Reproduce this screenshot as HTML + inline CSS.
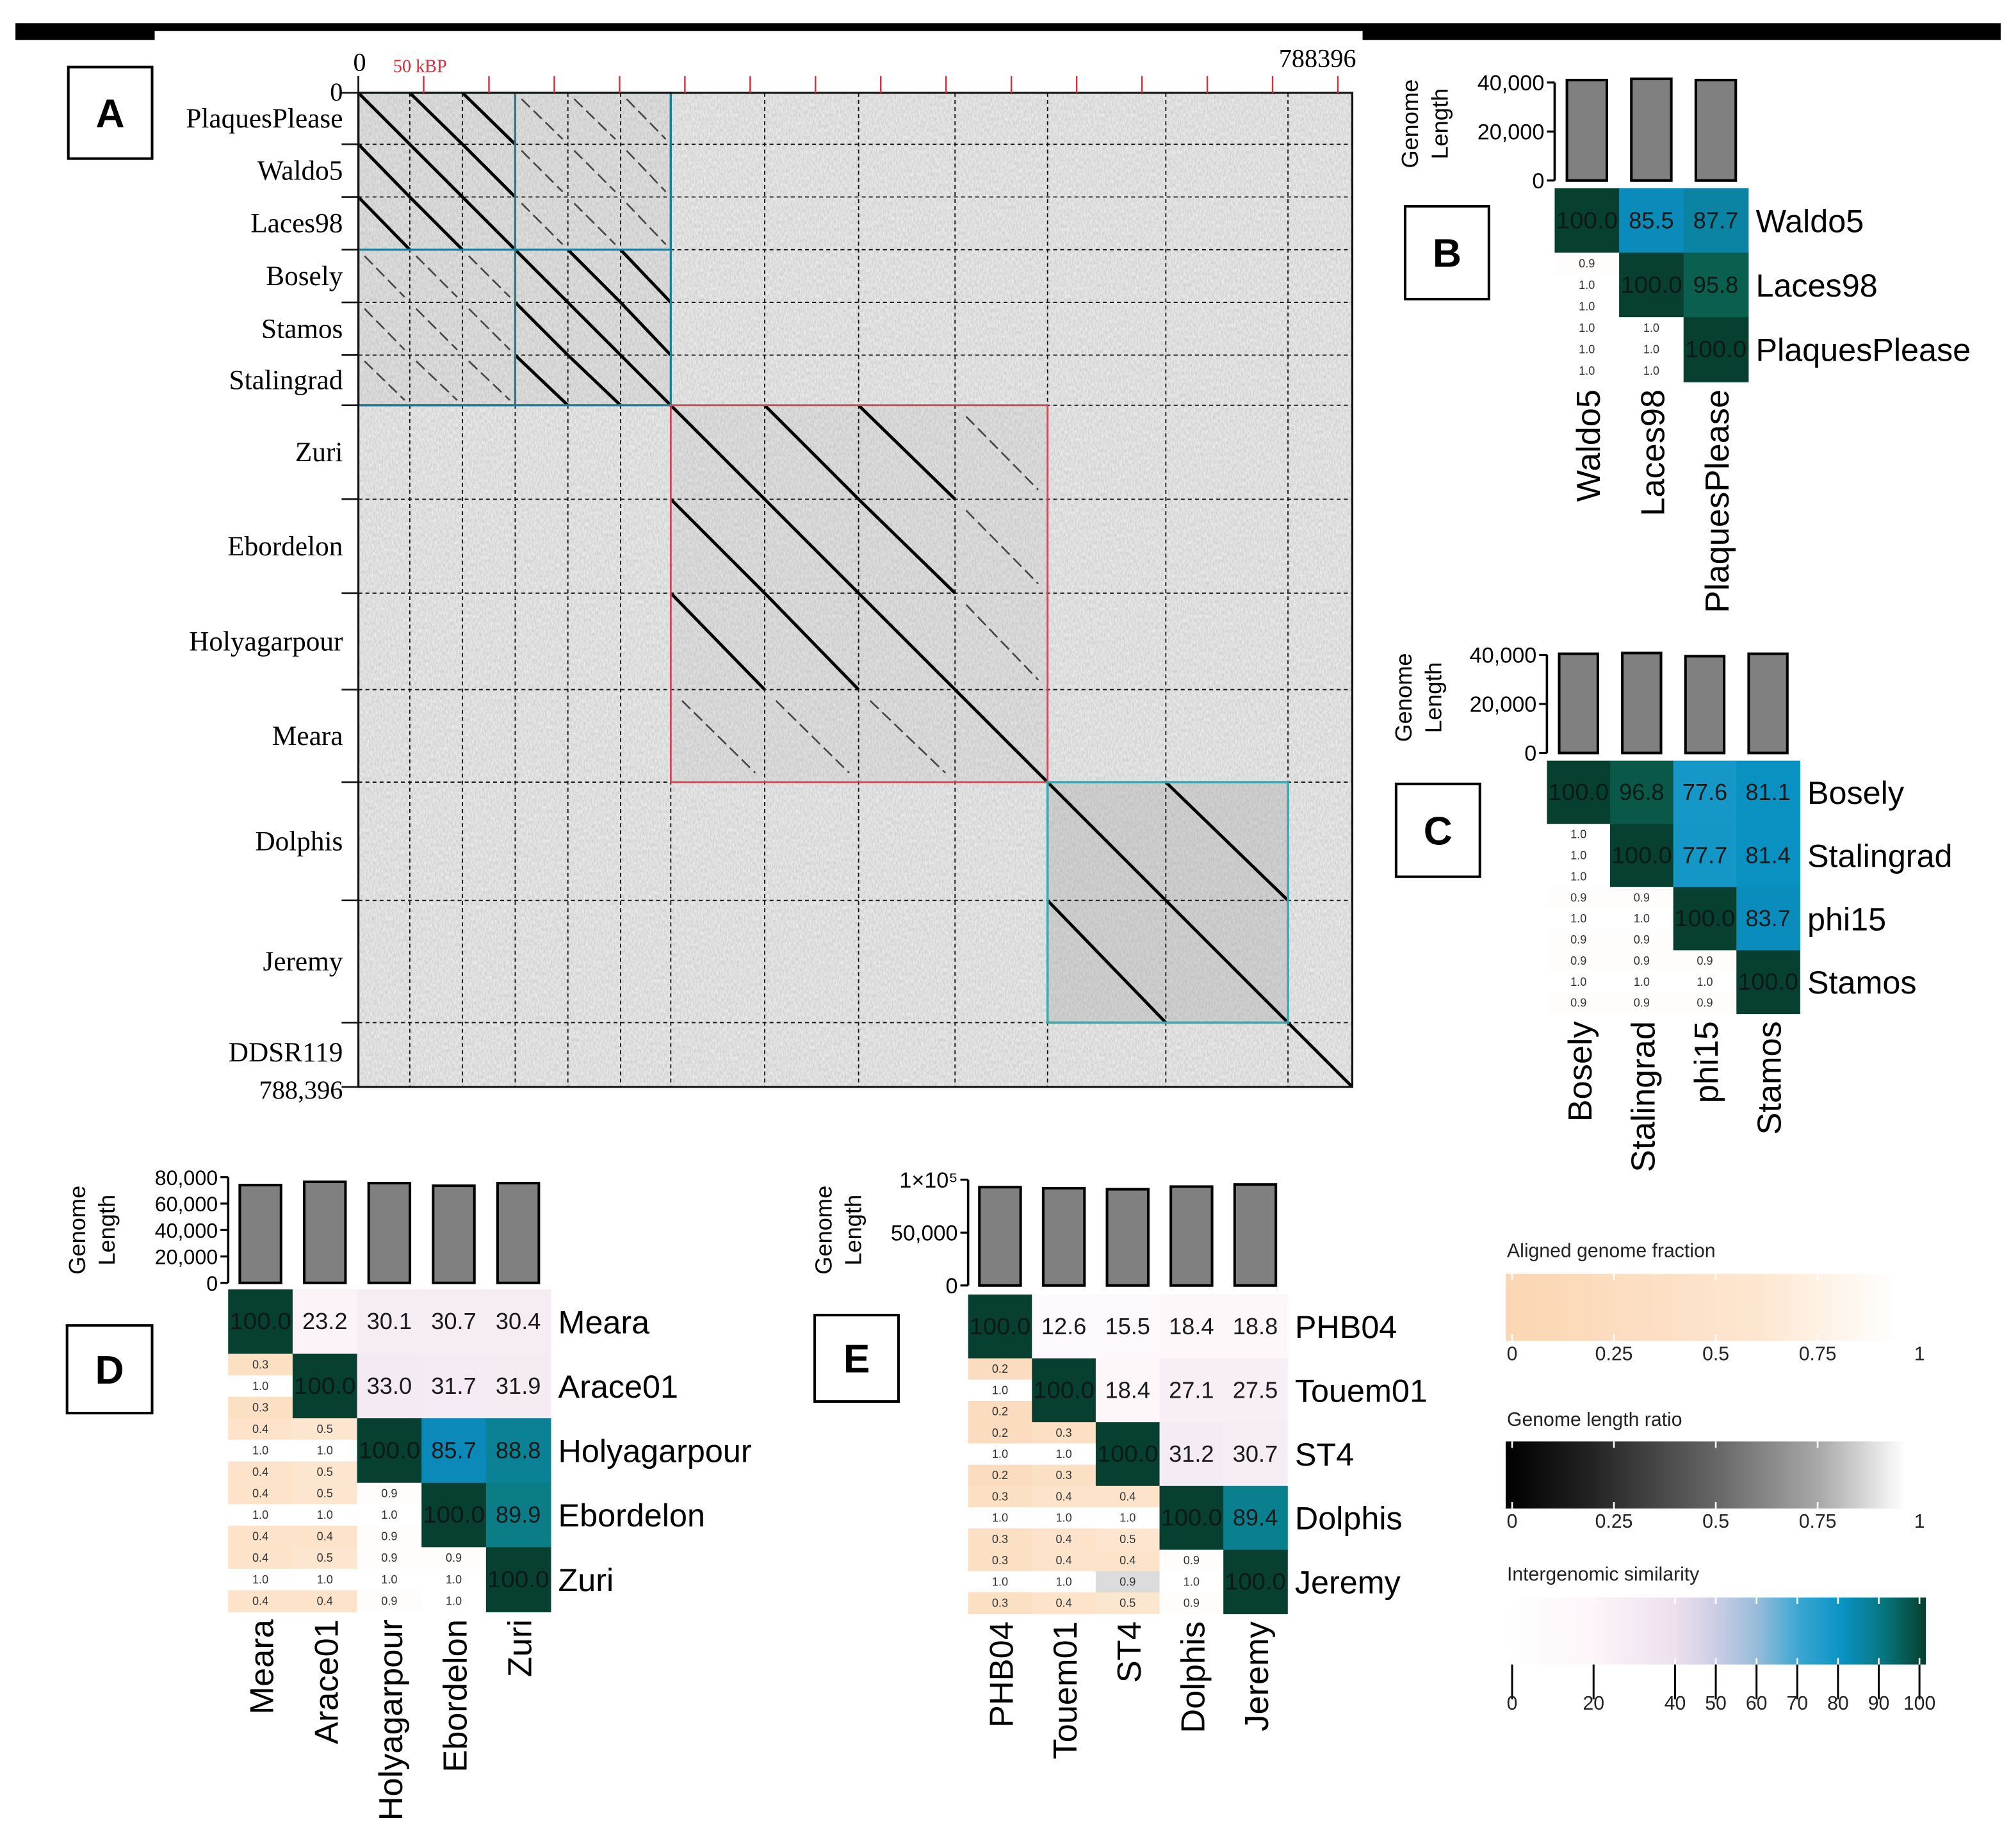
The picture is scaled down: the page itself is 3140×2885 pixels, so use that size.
<!DOCTYPE html>
<html><head><meta charset="utf-8">
<style>
html,body{margin:0;padding:0;background:#fff;}
svg{display:block;}
.serif{font-family:"Liberation Serif",serif;}
.sans{font-family:"Liberation Sans",sans-serif;}
</style></head>
<body>
<svg id="fig" xmlns="http://www.w3.org/2000/svg" width="3140" height="2885" viewBox="0 0 1560 1433.3" preserveAspectRatio="none">
<defs>
<filter id="noise" x="0" y="0" width="100%" height="100%">
<feTurbulence type="fractalNoise" baseFrequency="0.9 0.35" numOctaves="2" seed="3"/>
<feColorMatrix type="matrix" values="0 0 0 0 0.35  0 0 0 0 0.35  0 0 0 0 0.35  0 0 0 -1.6 1.25"/>
</filter>
<linearGradient id="gFrac" x1="0" x2="1"><stop offset="0" stop-color="#fbd6b2"/><stop offset="0.6" stop-color="#fde6d0"/><stop offset="0.93" stop-color="#ffffff"/></linearGradient>
<linearGradient id="gRatio" x1="0" x2="1"><stop offset="0" stop-color="#000"/><stop offset="0.2" stop-color="#222"/><stop offset="0.5" stop-color="#666"/><stop offset="0.75" stop-color="#aaa"/><stop offset="0.95" stop-color="#fff"/></linearGradient>
<linearGradient id="gSim" x1="0" x2="1"><stop offset="0" stop-color="#ffffff"/><stop offset="0.2" stop-color="#fdf6fa"/><stop offset="0.4" stop-color="#eee0ee"/><stop offset="0.5" stop-color="#cccde6"/><stop offset="0.6" stop-color="#95bcd9"/><stop offset="0.7" stop-color="#3aa6d2"/><stop offset="0.8" stop-color="#0993c4"/><stop offset="0.9" stop-color="#07767e"/><stop offset="1" stop-color="#053f2e"/></linearGradient>
</defs>
</svg>
<script>
// ---------- DATA ----------
const dotGenomes = ['PlaquesPlease','Waldo5','Laces98','Bosely','Stamos','Stalingrad','Zuri','Ebordelon','Holyagarpour','Meara','Dolphis','Jeremy','DDSR119'];
const dotLengths = [40800,41800,41800,41800,41800,39800,74500,74500,76500,73400,93800,96900,51000];
const dotSubcluster = ['A','A','A','B','B','B','C','C','C','D','E','E','F'];
const dotCluster = [1,1,1,1,1,1,2,2,2,2,3,3,4];
const dotTotalLabel = '788396';
const topTickStepBp = 51800;

const bNames = ['Waldo5','Laces98','PlaquesPlease'];
const bLengths = [41000,41500,41000];
const bSim = [[100,85.5,87.7],[null,100,95.8],[null,null,100]];
const bLower = {'1,0':[0.9,1.0,1.0],'2,0':[1.0,1.0,1.0],'2,1':[1.0,1.0,1.0]};
const bTicks = [0,20000,40000];

const cNames = ['Bosely','Stalingrad','phi15','Stamos'];
const cLengths = [40500,40800,39500,40500];
const cSim = [[100,96.8,77.6,81.1],[null,100,77.7,81.4],[null,null,100,83.7],[null,null,null,100]];
const cLower = {'1,0':[1.0,1.0,1.0],'2,0':[0.9,1.0,0.9],'2,1':[0.9,1.0,0.9],'3,0':[0.9,1.0,0.9],'3,1':[0.9,1.0,0.9],'3,2':[0.9,1.0,0.9]};
const cTicks = [0,20000,40000];

const dNames = ['Meara','Arace01','Holyagarpour','Ebordelon','Zuri'];
const dLengths = [74000,76500,75500,73500,75500];
const dSim = [[100,23.2,30.1,30.7,30.4],[null,100,33.0,31.7,31.9],[null,null,100,85.7,88.8],[null,null,null,100,89.9],[null,null,null,null,100]];
const dLower = {'1,0':[0.3,1.0,0.3],'2,0':[0.4,1.0,0.4],'2,1':[0.5,1.0,0.5],'3,0':[0.4,1.0,0.4],'3,1':[0.5,1.0,0.4],'3,2':[0.9,1.0,0.9],'4,0':[0.4,1.0,0.4],'4,1':[0.5,1.0,0.4],'4,2':[0.9,1.0,0.9],'4,3':[0.9,1.0,1.0]};
const dTicks = [0,20000,40000,60000,80000];

const eNames = ['PHB04','Touem01','ST4','Dolphis','Jeremy'];
const eLengths = [93000,92000,91000,93500,95500];
const eSim = [[100,12.6,15.5,18.4,18.8],[null,100,18.4,27.1,27.5],[null,null,100,31.2,30.7],[null,null,null,100,89.4],[null,null,null,null,100]];
const eLower = {'1,0':[0.2,1.0,0.2],'2,0':[0.2,1.0,0.2],'2,1':[0.3,1.0,0.3],'3,0':[0.3,1.0,0.3],'3,1':[0.4,1.0,0.4],'3,2':[0.4,1.0,0.5],'4,0':[0.3,1.0,0.3],'4,1':[0.4,1.0,0.4],'4,2':[0.4,0.9,0.5],'4,3':[0.9,1.0,0.9]};
const eTicks = [0,50000,100000];

const fracLegendTicks = [0,0.25,0.5,0.75,1];
const ratioLegendTicks = [0,0.25,0.5,0.75,1];
const simLegendTicks = [0,20,40,50,60,70,80,90,100];

// ---------- HELPERS ----------
const NS='http://www.w3.org/2000/svg';
const svg=document.getElementById('fig');
function mk(tag,attrs,parent){const e=document.createElementNS(NS,tag);for(const k in attrs)e.setAttribute(k,attrs[k]);(parent||svg).appendChild(e);return e;}
function tx(x,y,s,attrs,parent){const e=mk('text',Object.assign({x:x,y:y},attrs),parent);e.textContent=s;return e;}
function lerp(a,b,t){return a+(b-a)*t;}
function hex(c){return [parseInt(c.slice(1,3),16),parseInt(c.slice(3,5),16),parseInt(c.slice(5,7),16)];}
function scaleColor(stops,v){
  if(v<=stops[0][0])return 'rgb('+hex(stops[0][1]).join(',')+')';
  for(let i=1;i<stops.length;i++){if(v<=stops[i][0]){const t=(v-stops[i-1][0])/(stops[i][0]-stops[i-1][0]);const a=hex(stops[i-1][1]),b=hex(stops[i][1]);return 'rgb('+a.map((x,k)=>Math.round(lerp(x,b[k],t))).join(',')+')';}}
  return 'rgb('+hex(stops[stops.length-1][1]).join(',')+')';
}
const simStops=[[0,'#ffffff'],[20,'#fdf6fa'],[40,'#efe3ef'],[50,'#cccde6'],[60,'#95bcd9'],[70,'#3aa6d2'],[80,'#0993c4'],[86,'#0b8ab8'],[90,'#0a7d86'],[96,'#0b5e4c'],[100,'#073f31']];
const fracStops=[[0,'#fbd6b2'],[0.5,'#fde6d0'],[0.93,'#ffffff'],[1,'#ffffff']];
const ratioStops=[[0,'#000000'],[0.5,'#666666'],[0.9,'#dcdcdc'],[0.95,'#ffffff'],[1,'#ffffff']];

// ---------- TOP BAR ----------
let el;
el=mk('path',{d:'M12 18 H1552 V31 H1057 V24 H120 V31 H12 Z',fill:'#000'});



function letterBox(x,y,w,h,letter,name){
  const g=mk('g',{});
  
  
  mk('rect',{x:x,y:y,width:w,height:h,fill:'#fff',stroke:'#000','stroke-width':2},g);
  tx(x+w/2,y+h/2+11,letter,{'text-anchor':'middle','font-size':31,'font-weight':'bold',class:'sans'},g);
}

// ---------- PANEL A : DOT PLOT ----------
(function(){
  const X0=278,Y0=72,S=771;
  const total=dotLengths.reduce((a,b)=>a+b,0);
  const pos=v=>v/total*S;
  const starts=[];let acc=0;dotLengths.forEach(l=>{starts.push(acc);acc+=l;});
  const g=mk('g',{});
  
  
  const bg=mk('rect',{x:X0,y:Y0,width:S,height:S,fill:'#ececec'},g);
  
  
  const clusters=[...new Set(dotCluster)];
  clusters.forEach(c=>{
    const idx=dotCluster.map((v,i)=>v===c?i:-1).filter(i=>i>=0);
    const a=starts[idx[0]],b=starts[idx[idx.length-1]]+dotLengths[idx[idx.length-1]];
    if(idx.length<2)return;
    const shade=c===3?'#d4d4d4':'#e2e2e2';
    const r=mk('rect',{x:X0+pos(a),y:Y0+pos(a),width:pos(b-a),height:pos(b-a),fill:shade},g);
    
    
  });
  const nz=mk('rect',{x:X0,y:Y0,width:S,height:S,filter:'url(#noise)',opacity:0.4},g);
  
  
  for(let i=1;i<dotLengths.length;i++){
    const p=pos(starts[i]);
    const h=mk('line',{x1:X0,x2:X0+S,y1:Y0+p,y2:Y0+p,stroke:'#111','stroke-width':0.9,'stroke-dasharray':'3,2.5'},g);
    
    
    const v=mk('line',{y1:Y0,y2:Y0+S,x1:X0+p,x2:X0+p,stroke:'#111','stroke-width':0.9,'stroke-dasharray':'3,2.5'},g);
    
    
  }
  for(let i=0;i<dotLengths.length;i++){
    for(let j=0;j<dotLengths.length;j++){
      if(dotCluster[i]!==dotCluster[j])continue;
      const strong=dotSubcluster[i]===dotSubcluster[j];
      const xa=X0+pos(starts[j]),ya=Y0+pos(starts[i]);
      const xb=X0+pos(starts[j]+dotLengths[j]),yb=Y0+pos(starts[i]+dotLengths[i]);
      let ln;
      if(strong){
        ln=mk('line',{x1:xa,y1:ya,x2:xb,y2:yb,stroke:'#000','stroke-width':2.4},g);
      }else{
        ln=mk('line',{x1:lerp(xa,xb,0.12),y1:lerp(ya,yb,0.12),x2:lerp(xa,xb,0.9),y2:lerp(ya,yb,0.9),stroke:'#222','stroke-width':1.3,'stroke-dasharray':'9,4',opacity:0.8},g);
      }
      
      
    }
  }
  function box(a,b,c,d,color,name,w){
    const r=mk('rect',{x:X0+pos(a),y:Y0+pos(c),width:pos(b-a),height:pos(d-c),fill:'none',stroke:color,'stroke-width':w||1.6},g);
    
    
  }
  const e=i=>starts[i]+dotLengths[i];
  box(starts[0],e(5),starts[0],e(5),'#1a7e98','cluster-box-1');
  box(starts[0],e(2),starts[0],e(5),'#1a7e98','cluster-box-1a');
  box(starts[0],e(5),starts[0],e(2),'#1a7e98','cluster-box-1b');
  box(starts[6],e(9),starts[6],e(9),'#c84a55','cluster-box-2',1.4);
  box(starts[10],e(11),starts[10],e(11),'#3aa8ad','cluster-box-3',1.8);
  const fr=mk('path',{d:`M${X0} ${Y0} H${X0+S} V${Y0+S} H${X0} Z`,fill:'none',stroke:'#111','stroke-width':1.6},g);
  
  
  for(let bp=topTickStepBp;bp<total;bp+=topTickStepBp){
    const x=X0+pos(bp);
    const t=mk('line',{x1:x,x2:x,y1:59,y2:72,stroke:'#d0303a','stroke-width':1.2},g);
    
    
  }
  const t0=mk('line',{x1:X0,x2:X0,y1:59,y2:72,stroke:'#111','stroke-width':1.4},g);
  
  
  el=tx(279,55,'0',{'text-anchor':'middle','font-size':20,class:'serif'},g);
  
  
  el=tx(305,56,'50 kBP',{'font-size':14,fill:'#d0303a',class:'serif'},g);
  
  
  el=tx(1052,52,dotTotalLabel,{'text-anchor':'end','font-size':20,class:'serif'},g);
  
  
  for(let i=0;i<=dotLengths.length;i++){
    const y=Y0+(i<dotLengths.length?pos(starts[i]):S);
    const t=mk('line',{x1:265,x2:X0,y1:y,y2:y,stroke:'#111','stroke-width':1.3},g);
    
    
  }
  el=tx(266,78,'0',{'text-anchor':'end','font-size':20,class:'serif'},g);
  
  
  el=tx(266,852,'788,396',{'text-anchor':'end','font-size':20,class:'serif'},g);
  
  
  dotGenomes.forEach((n,i)=>{
    let y=Y0+pos(starts[i]+dotLengths[i]/2)+7;
    if(i===dotGenomes.length-1)y=Y0+pos(starts[i])+30;
    const t=tx(266,y,n,{'text-anchor':'end','font-size':21.5,class:'serif'},g);
    
    
  });
})();
letterBox(53,52,65,71,'A','panel-label-a');

// ---------- HEATMAP PANELS ----------
function heatPanel(cfg){
  const {names,lengths,sim,lower,ticks,tickLabels,x0,y0,cw,ch,axTop,axBot,axMax,barW,id,labelSize,titleX,titleY}=cfg;
  const n=names.length;
  const g=mk('g',{});
  
  
  const yv=v=>axBot-(v/axMax)*(axBot-axTop);
  const ax=mk('line',{x1:x0,x2:x0,y1:axTop,y2:axBot,stroke:'#000','stroke-width':1.8},g);
  
  
  ticks.forEach((t,k)=>{
    const y=yv(t);
    const tk=mk('line',{x1:x0-6,x2:x0,y1:y,y2:y,stroke:'#000','stroke-width':1.6},g);
    
    
    const lb=tx(x0-8,y+6,tickLabels[k],{'text-anchor':'end','font-size':cfg.tickSize||17,class:'sans'},g);
    
    
  });
  const tg=mk('g',{transform:`translate(${titleX},${titleY}) rotate(-90)`},g);
  
  
  tx(0,0,'Genome',{'text-anchor':'middle','font-size':18,class:'sans'},tg);
  tx(0,23,'Length',{'text-anchor':'middle','font-size':18,class:'sans'},tg);
  lengths.forEach((l,i)=>{
    const cx=x0+cw*(i+0.5);
    const b=mk('rect',{x:cx-barW/2,y:yv(l),width:barW,height:axBot-yv(l),fill:'#808080',stroke:'#000','stroke-width':2},g);
    
    
  });
  for(let i=0;i<n;i++){
    for(let j=0;j<n;j++){
      const x=x0+j*cw,y=y0+i*ch;
      if(j>=i){
        const v=sim[i][j];
        const c=mk('rect',{x:x,y:y,width:cw+0.5,height:ch+0.5,fill:scaleColor(simStops,v)},g);
        
        
        const t=tx(x+cw/2,y+ch/2+6,v.toFixed(1),{'text-anchor':'middle','font-size':18,fill:v>=95?'#0b1a14':'#1a1a1a',class:'sans'},g);
        if(v>=100){t.setAttribute('textLength',cw-2);t.setAttribute('lengthAdjust','spacingAndGlyphs');}
        
        
      }else{
        const vals=lower[i+','+j];
        const cg=mk('g',{},g);
        
        
        vals.forEach((v,k)=>{
          const col=k===1?scaleColor(ratioStops,v):scaleColor(fracStops,v);
          mk('rect',{x:x,y:y+k*ch/3,width:cw+0.5,height:ch/3+0.5,fill:col},cg);
          tx(x+cw/2,y+k*ch/3+ch/6+3,v.toFixed(1),{'text-anchor':'middle','font-size':9,fill:'#333',class:'sans'},cg);
        });
      }
    }
    const rl=tx(x0+n*cw+6,y0+i*ch+ch/2+9,names[i],{'font-size':labelSize,class:'sans'},g);
    
    
    const cx=x0+cw*(i+0.5)+10, cy=y0+n*ch+6;
    const cl=tx(cx,cy,names[i],{'text-anchor':'end','font-size':labelSize+1,transform:`rotate(-90 ${cx} ${cy})`,class:'sans'},g);
    
    
  }
}
heatPanel({id:'b',names:bNames,lengths:bLengths,sim:bSim,lower:bLower,ticks:bTicks,tickLabels:['0','20,000','40,000'],x0:1206,y0:146,cw:50,ch:50,axTop:64,axBot:140,axMax:40000,barW:31,labelSize:25,titleX:1100,titleY:96});
letterBox(1090,160,65,72,'B','panel-label-b');
heatPanel({id:'c',names:cNames,lengths:cLengths,sim:cSim,lower:cLower,ticks:cTicks,tickLabels:['0','20,000','40,000'],x0:1200,y0:590,cw:49,ch:49,axTop:508,axBot:584,axMax:40000,barW:30,labelSize:25,titleX:1095,titleY:541});
letterBox(1083,608,65,72,'C','panel-label-c');
heatPanel({id:'d',names:dNames,lengths:dLengths,sim:dSim,lower:dLower,ticks:dTicks,tickLabels:['0','20,000','40,000','60,000','80,000'],x0:177,y0:1000,cw:50,ch:50,axTop:913,axBot:995,axMax:80000,barW:32,labelSize:25,titleX:66,titleY:954,tickSize:16});
letterBox(52,1028,66,68,'D','panel-label-d');
heatPanel({id:'e',names:eNames,lengths:eLengths,sim:eSim,lower:eLower,ticks:eTicks,tickLabels:['0','50,000','1×10⁵'],x0:751,y0:1004,cw:49.5,ch:49.5,axTop:915,axBot:997,axMax:100000,barW:32,labelSize:25,titleX:645,titleY:954});
letterBox(632,1020,65,67,'E','panel-label-e');

// ---------- LEGENDS ----------
function legend(title,ty,by,grad,ticks,fmt,x0,x1,labY,id,tickLines){
  const g=mk('g',{});
  
  
  tx(1169,ty,title,{'font-size':15,fill:'#222',class:'sans'},g);
  const r=mk('rect',{x:1168,y:by,width:x1-1168,height:52,fill:grad},g);
  
  
  const vmax=ticks[ticks.length-1];
  ticks.forEach(t=>{
    const x=x0+(t/vmax)*(x1-x0-5);
    mk('line',{x1:x,x2:x,y1:by,y2:by+5,stroke:'#fff','stroke-width':1.3},g);
    mk('line',{x1:x,x2:x,y1:by+47,y2:by+52,stroke:'#fff','stroke-width':1.3},g);
    if(tickLines)mk('line',{x1:x,x2:x,y1:by+52,y2:by+79,stroke:'#000','stroke-width':1.5},g);
    const l=tx(x,labY,fmt(t),{'text-anchor':'middle','font-size':15,fill:'#222',class:'sans'},g);
    
    
  });
}
legend('Aligned genome fraction',975,988,'url(#gFrac)',fracLegendTicks,String,1173,1494,1055,'aligned-fraction',false);
legend('Genome length ratio',1106,1118,'url(#gRatio)',ratioLegendTicks,String,1173,1494,1185,'length-ratio',false);
legend('Intergenomic similarity',1226,1239,'url(#gSim)',simLegendTicks,String,1173,1494,1326,'similarity',true);
</script>
</body></html>
